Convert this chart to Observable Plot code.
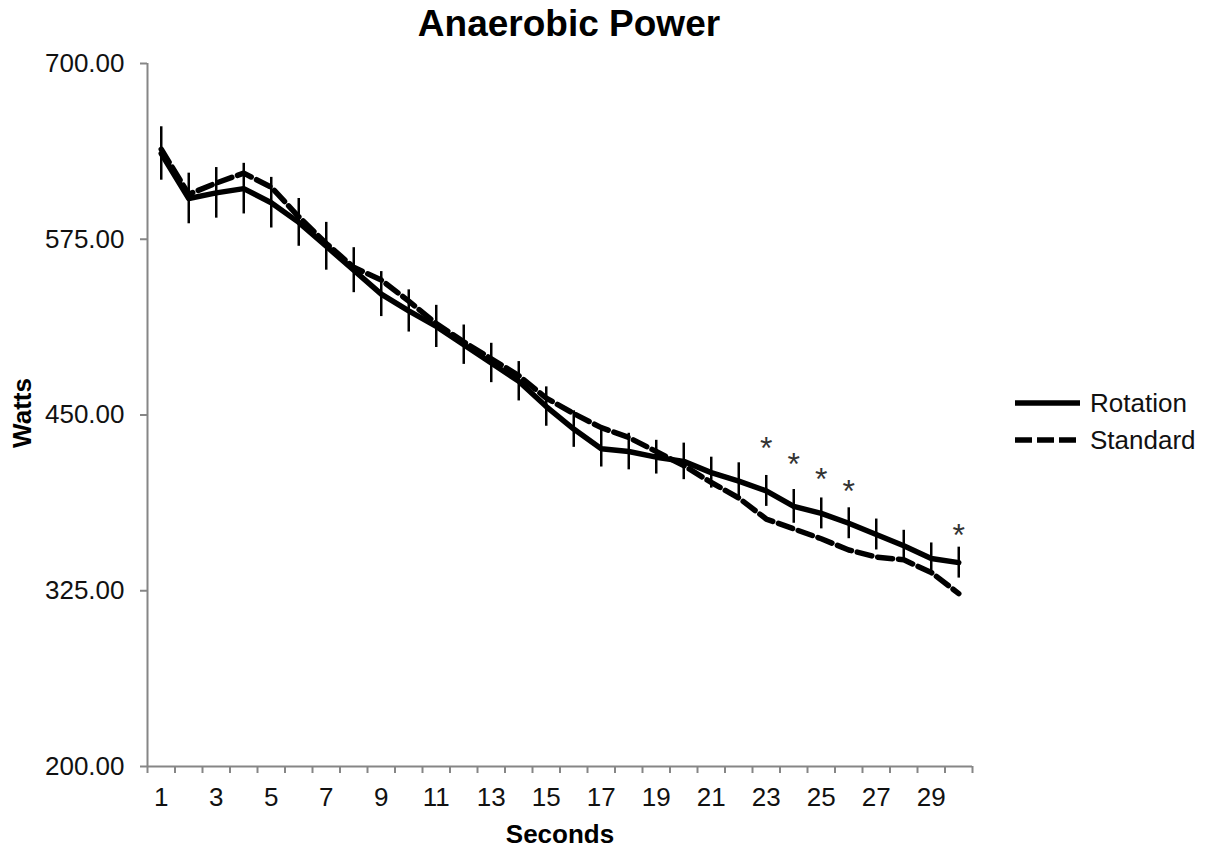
<!DOCTYPE html>
<html><head><meta charset="utf-8">
<script src="https://cdn.jsdelivr.net/npm/d3@7"></script>
<script src="https://cdn.jsdelivr.net/npm/@observablehq/plot@0.6"></script>
<style>
body{margin:0;background:#fff;font-family:"Liberation Sans",Arial,sans-serif;}
#wrap{position:relative;width:1207px;height:848px;overflow:hidden;}
#title{position:absolute;top:3px;left:569px;transform:translateX(-50%);white-space:nowrap;font-weight:bold;font-size:37px;color:#000;}
#ylab{position:absolute;left:22px;top:413px;transform:translate(-50%,-50%) rotate(-90deg);font-weight:bold;font-size:26px;line-height:26px;white-space:nowrap;}
#xlab{position:absolute;left:560px;top:821px;transform:translateX(-50%);font-weight:bold;font-size:26px;line-height:26px;white-space:nowrap;}
#legend{position:absolute;left:1010px;top:380px;}
</style></head><body>
<div id="wrap"><div id="chart"></div><div id="title">Anaerobic Power</div><div id="ylab">Watts</div><div id="xlab">Seconds</div><div id="legend"></div></div>
<script>
const seconds = [1,2,3,4,5,6,7,8,9,10,11,12,13,14,15,16,17,18,19,20,21,22,23,24,25,26,27,28,29,30];
const rotation = [636,604,608,611,601,587,570,553,536,524,513,500,487,474,456,440,426,424,420,417,409,403,396,385,380,373,365,357,348,345];
const rotationErr = [19,18,18,18,18,17,17,16,16,15,15,14,14,14,14,13,13,13,12,13,11,13,11,12,11,11,11,11,11,11];
const standard = [639,607,615,622,612,591,572,555,546,531,515,502,490,478,462,451,441,434,424,414,402,391,376,369,362,354,349,347,338,323];
const sigSeconds = [23,24,25,26,30];
const sigMarkY = [430,419,408.5,400,368.5];
const yTicks = [200,325,450,575,700];
const xTickLabels = [1,3,5,7,9,11,13,15,17,19,21,23,25,27,29];
const seriesNames = ["Rotation","Standard"];

const rows = seconds.map((s,i)=>({s, rot: rotation[i], std: standard[i], err: rotationErr[i]}));
const sig = sigSeconds.map((s,i)=>({s, y: sigMarkY[i]}));
const boundaries = seconds.map(s=>s-0.5).concat([seconds[seconds.length-1]+0.5]);
const axisGray = "#868686";

const chart = Plot.plot({
  width:1207, height:848,
  marginLeft:147, marginRight:235, marginTop:63, marginBottom:82,
  x:{domain:[0.5,30.5]},
  y:{domain:[200,700]},
  style:{fontFamily:"Liberation Sans, Arial, sans-serif", fontSize:"26px", color:"#111", background:"#fff"},
  marks:[
    Plot.axisY({ticks:yTicks, tickFormat:d=>d.toFixed(2), tickSize:7, tickPadding:16, stroke:axisGray, strokeWidth:2, label:null, fill:"#111"}),
    Plot.axisX({ticks:boundaries, tickFormat:()=>"", tickSize:7, stroke:axisGray, strokeWidth:2, label:null}),
    Plot.axisX({ticks:xTickLabels, tickSize:0, tickPadding:21, label:null, fill:"#111"}),
    Plot.ruleX([0.5],{stroke:axisGray, strokeWidth:2}),
    Plot.ruleY([200],{stroke:axisGray, strokeWidth:2}),
    Plot.line(rows,{x:"s", y:"std", stroke:"#000", strokeWidth:5.5, strokeDasharray:"15,6"}),
    Plot.line(rows,{x:"s", y:"rot", stroke:"#000", strokeWidth:5.5}),
    Plot.ruleX(rows,{x:"s", y1:d=>d.rot-d.err, y2:d=>d.rot+d.err, stroke:"#000", strokeWidth:2.5}),
    Plot.text(sig,{x:"s", y:"y", text:()=>"*", fontSize:32, dy:6, fill:"#333"})
  ]
});
document.getElementById("chart").appendChild(chart);

// legend
const lg = d3.select("#legend").append("svg").attr("width",197).attr("height",80);
const dashes = [null,"17,5"];
seriesNames.forEach((name,i)=>{
  const yy = 23 + i*37;
  lg.append("line").attr("x1",5).attr("x2",70).attr("y1",yy).attr("y2",yy)
    .attr("stroke","#000").attr("stroke-width",5.5).attr("stroke-dasharray",dashes[i]);
  lg.append("text").attr("x",80).attr("y",yy+9).text(name)
    .attr("font-size",26).attr("font-family","Liberation Sans, Arial, sans-serif").attr("fill","#111");
});
</script>
</body></html>
